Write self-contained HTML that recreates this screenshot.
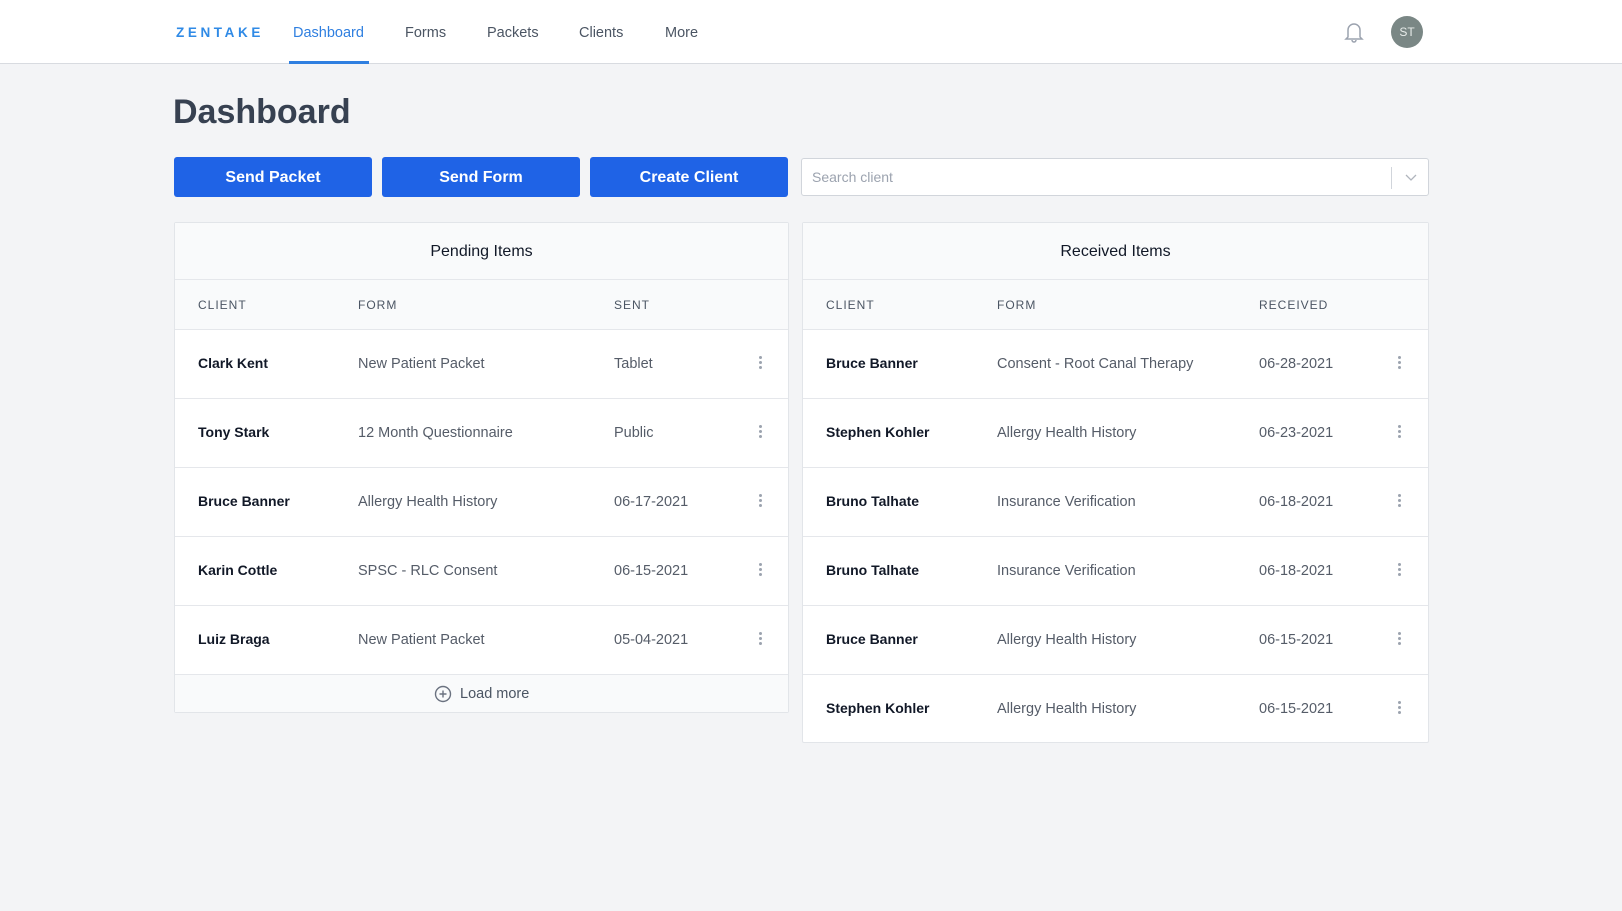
<!DOCTYPE html>
<html><head><style>
*{margin:0;padding:0;box-sizing:border-box}
body{width:1622px;height:911px;background:#f3f4f6;font-family:"Liberation Sans",sans-serif;position:relative;overflow:hidden;color:#111827}
.a{position:absolute}
.hdr{left:0;top:0;width:1622px;height:64px;background:#fff;border-bottom:1px solid #d8dbe0}
.nav{top:25px;font-size:14.5px;color:#4b5563}
.btn{top:157px;height:40px;background:#1f63e6;color:#fff;border-radius:3px;font-size:16px;font-weight:bold;text-align:center;line-height:42px;width:198px}
.panel{background:#fff;border:1px solid #e2e5e9;border-radius:2px}
.ttl{left:0;right:0;height:57px;background:#f9fafb;border-bottom:1px solid #e5e7eb;text-align:center;line-height:57px;font-size:16px;color:#111827}
.th{left:0;right:0;top:57px;height:50px;background:#f9fafb;border-bottom:1px solid #e5e7eb}
.th span{position:absolute;top:18px;font-size:12px;letter-spacing:1px;color:#4b5563}
.row{left:0;right:0;height:69px;border-bottom:1px solid #e5e7eb}
.row span{position:absolute;top:26px;font-size:14.5px;color:#555c68}
.row span.n{font-weight:bold;color:#111827;font-size:14px;top:25px}
.dots{position:absolute;top:26px;width:3px}
.dots i{display:block;width:3px;height:3px;border-radius:50%;background:#9ca3af;margin-bottom:2px}
</style></head><body>
<div class="a hdr"></div>
<div class="a" style="left:176px;top:25px;font-size:13.5px;font-weight:bold;letter-spacing:3.6px;color:#2f8ae6">ZENTAKE</div>
<div class="a nav" style="left:293px;color:#2f7fe0">Dashboard</div>
<div class="a" style="left:289px;top:61px;width:80px;height:3px;background:#2f7fe0"></div>
<div class="a nav" style="left:405px">Forms</div>
<div class="a nav" style="left:487px">Packets</div>
<div class="a nav" style="left:579px">Clients</div>
<div class="a nav" style="left:665px">More</div>
<svg class="a" style="left:1343px;top:20px" width="22" height="24" viewBox="0 0 22 24"><path d="M5 17V10a6 6 0 0 1 12 0v7l2 2H3z M9 20a2 2 0 0 0 4 0" fill="none" stroke="#9ca3af" stroke-width="1.5"/></svg>
<div class="a" style="left:1391px;top:16px;width:32px;height:32px;border-radius:50%;background:#7a8785;color:#e8ecea;font-size:12px;text-align:center;line-height:32px">ST</div>
<div class="a" style="left:173px;top:93px;font-size:34px;font-weight:bold;color:#374151">Dashboard</div>
<div class="a btn" style="left:174px">Send Packet</div>
<div class="a btn" style="left:382px">Send Form</div>
<div class="a btn" style="left:590px">Create Client</div>
<div class="a" style="left:801px;top:158px;width:628px;height:38px;background:#fff;border:1px solid #d1d5db;border-radius:3px">
<span class="a" style="left:10px;top:10px;font-size:14px;color:#9ca3af">Search client</span>
<div class="a" style="right:36px;top:8px;width:1px;height:22px;background:#d1d5db"></div>
<svg class="a" style="right:11px;top:13px" width="12" height="10"><path d="M1 3l5 5 5-5" fill="none" stroke="#b0b5bd" stroke-width="1.3"/></svg>
</div>

<div class="a panel" style="left:174px;top:222px;width:615px;height:491px">
<div class="a ttl">Pending Items</div>
<div class="a th"><span style="left:23px">CLIENT</span><span style="left:183px">FORM</span><span style="left:439px">SENT</span></div>
<div class="a row" style="top:107px"><span class="n" style="left:23px">Clark Kent</span><span style="left:183px">New Patient Packet</span><span style="left:439px">Tablet</span><div class="dots" style="left:584px"><i></i><i></i><i></i></div></div>
<div class="a row" style="top:176px"><span class="n" style="left:23px">Tony Stark</span><span style="left:183px">12 Month Questionnaire</span><span style="left:439px">Public</span><div class="dots" style="left:584px"><i></i><i></i><i></i></div></div>
<div class="a row" style="top:245px"><span class="n" style="left:23px">Bruce Banner</span><span style="left:183px">Allergy Health History</span><span style="left:439px">06-17-2021</span><div class="dots" style="left:584px"><i></i><i></i><i></i></div></div>
<div class="a row" style="top:314px"><span class="n" style="left:23px">Karin Cottle</span><span style="left:183px">SPSC - RLC Consent</span><span style="left:439px">06-15-2021</span><div class="dots" style="left:584px"><i></i><i></i><i></i></div></div>
<div class="a row" style="top:383px"><span class="n" style="left:23px">Luiz Braga</span><span style="left:183px">New Patient Packet</span><span style="left:439px">05-04-2021</span><div class="dots" style="left:584px"><i></i><i></i><i></i></div></div>
<div class="a" style="left:0;right:0;top:452px;height:37px;background:#f9fafb"></div>
<svg class="a" style="left:259px;top:462px" width="18" height="18"><circle cx="9" cy="9" r="7.5" fill="none" stroke="#6b7280" stroke-width="1.4"/><path d="M9 5.5v7M5.5 9h7" stroke="#6b7280" stroke-width="1.4"/></svg>
<div class="a" style="left:285px;top:463px;font-size:14.5px;color:#4b5563">Load more</div>
</div>

<div class="a panel" style="left:802px;top:222px;width:627px;height:521px">
<div class="a ttl">Received Items</div>
<div class="a th"><span style="left:23px">CLIENT</span><span style="left:194px">FORM</span><span style="left:456px">RECEIVED</span></div>
<div class="a row" style="top:107px"><span class="n" style="left:23px">Bruce Banner</span><span style="left:194px">Consent - Root Canal Therapy</span><span style="left:456px">06-28-2021</span><div class="dots" style="left:595px"><i></i><i></i><i></i></div></div>
<div class="a row" style="top:176px"><span class="n" style="left:23px">Stephen Kohler</span><span style="left:194px">Allergy Health History</span><span style="left:456px">06-23-2021</span><div class="dots" style="left:595px"><i></i><i></i><i></i></div></div>
<div class="a row" style="top:245px"><span class="n" style="left:23px">Bruno Talhate</span><span style="left:194px">Insurance Verification</span><span style="left:456px">06-18-2021</span><div class="dots" style="left:595px"><i></i><i></i><i></i></div></div>
<div class="a row" style="top:314px"><span class="n" style="left:23px">Bruno Talhate</span><span style="left:194px">Insurance Verification</span><span style="left:456px">06-18-2021</span><div class="dots" style="left:595px"><i></i><i></i><i></i></div></div>
<div class="a row" style="top:383px"><span class="n" style="left:23px">Bruce Banner</span><span style="left:194px">Allergy Health History</span><span style="left:456px">06-15-2021</span><div class="dots" style="left:595px"><i></i><i></i><i></i></div></div>
<div class="a row" style="top:452px;border-bottom:none"><span class="n" style="left:23px">Stephen Kohler</span><span style="left:194px">Allergy Health History</span><span style="left:456px">06-15-2021</span><div class="dots" style="left:595px"><i></i><i></i><i></i></div></div>
</div>
</body></html>
